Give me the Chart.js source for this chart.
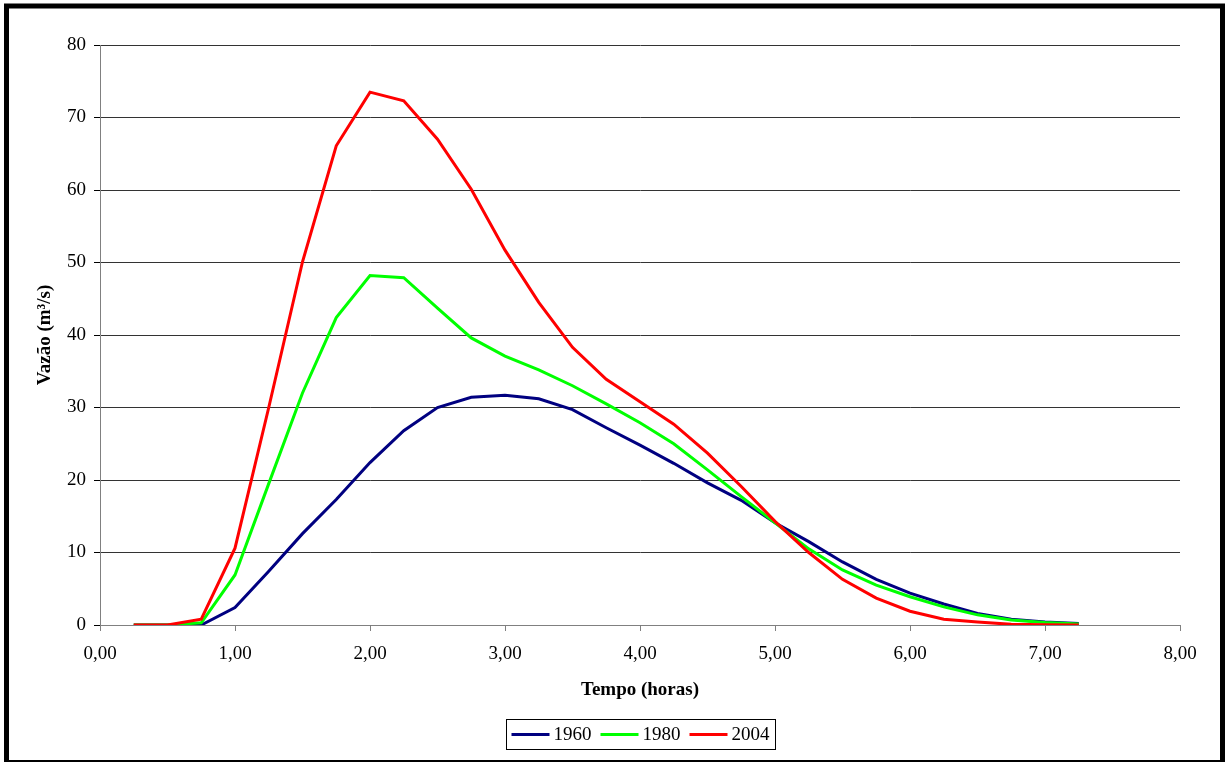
<!DOCTYPE html>
<html>
<head>
<meta charset="utf-8">
<title>Hidrogramas 1960 / 1980 / 2004</title>
<script src="https://cdn.jsdelivr.net/npm/chart.js@4"></script>
<style>
  html, body { margin: 0; padding: 0; background: #ffffff; }
  #chart { display: block; }
</style>
</head>
<body>
<canvas id="chart" width="1226" height="762"></canvas>
<script>
// Time axis (hours) shared by the three hydrographs
const hours = [0.25, 0.5, 0.75, 1.0, 1.25, 1.5, 1.75, 2.0, 2.25, 2.5, 2.75, 3.0, 3.25, 3.5,
               3.75, 4.0, 4.25, 4.5, 4.75, 5.0, 5.25, 5.5, 5.75, 6.0, 6.25, 6.5, 6.75, 7.0, 7.25];

// Discharge (m³/s) for each land-use scenario
const q1960 = [0, 0, 0, 2.4, 7.4, 12.6, 17.3, 22.4, 26.8, 30.0, 31.4, 31.7, 31.2, 29.7,
               27.2, 24.8, 22.3, 19.6, 17.2, 14.1, 11.5, 8.7, 6.3, 4.4, 2.9, 1.6, 0.8, 0.4, 0.2];
const q1980 = [0, 0, 0.3, 6.9, 19.5, 32.0, 42.4, 48.2, 47.9, 43.7, 39.6, 37.1, 35.2, 33.0,
               30.5, 27.9, 25.0, 21.4, 17.7, 14.1, 10.5, 7.6, 5.5, 3.9, 2.5, 1.4, 0.7, 0.35, 0.15];
const q2004 = [0, 0, 0.8, 10.6, 30.0, 50.1, 66.1, 73.5, 72.3, 67.0, 60.1, 51.7, 44.5, 38.3,
               33.9, 30.8, 27.7, 23.7, 19.1, 14.3, 10.0, 6.3, 3.7, 1.9, 0.8, 0.4, 0.1, 0.05, 0];

const seriesLabels = ['1960', '1980', '2004'];
const seriesColors = ['#000080', '#00ff00', '#ff0000'];

const FONT = "'Liberation Serif', 'Times New Roman', serif";

function toPoints(values) {
  return hours.map((h, i) => ({ x: h, y: values[i] }));
}

// White page with the heavy black frame around it
const framePlugin = {
  id: 'frame',
  beforeDraw(chart) {
    const c = chart.ctx;
    c.save();
    c.fillStyle = '#ffffff';
    c.fillRect(0, 0, chart.width, chart.height);
    c.restore();
  },
  afterDraw(chart) {
    const c = chart.ctx;
    c.save();
    c.strokeStyle = '#000000';
    c.lineWidth = 5;
    c.strokeRect(6.5, 6, 1216, 756.5);
    c.restore();
  }
};

// Boxed legend centred under the axis title
const boxedLegend = {
  id: 'boxedLegend',
  afterDraw(chart) {
    const c = chart.ctx;
    const ds = chart.data.datasets;
    c.save();
    c.font = '19px ' + FONT;
    const lineLen = 38, gapText = 4, gapItem = 9, padL = 5, padR = 6;
    const widths = ds.map(d => c.measureText(d.label).width);
    let total = 0;
    widths.forEach((w, i) => { total += lineLen + gapText + w + (i < ds.length - 1 ? gapItem : 0); });
    const boxW = total + padL + padR;
    const cx = (chart.chartArea.left + chart.chartArea.right) / 2;
    const boxX = Math.round(cx - boxW / 2) + 0.5;
    const boxY = 719.5, boxH = 30;
    c.strokeStyle = '#000000';
    c.lineWidth = 1;
    c.strokeRect(boxX, boxY, Math.round(boxW), boxH);
    const midY = boxY + boxH / 2;
    let x = boxX + padL;
    ds.forEach((d, i) => {
      c.strokeStyle = d.borderColor;
      c.lineWidth = 3;
      c.beginPath();
      c.moveTo(x, midY);
      c.lineTo(x + lineLen, midY);
      c.stroke();
      x += lineLen + gapText;
      c.fillStyle = '#000000';
      c.textBaseline = 'middle';
      c.textAlign = 'left';
      c.fillText(d.label, x, midY + 1);
      x += widths[i] + gapItem;
    });
    c.restore();
  }
};

const datasets = [q1960, q1980, q2004].map((vals, i) => ({
  label: seriesLabels[i],
  data: toPoints(vals),
  borderColor: seriesColors[i],
  backgroundColor: seriesColors[i],
  borderWidth: 3,
  pointRadius: 0,
  tension: 0,
  fill: false,
  order: 3 - i
}));

new Chart(document.getElementById('chart'), {
  type: 'line',
  data: { datasets },
  plugins: [framePlugin, boxedLegend],
  options: {
    responsive: false,
    animation: false,
    devicePixelRatio: 1,
    layout: { padding: { left: 0, right: 46, top: 45, bottom: 0 } },
    plugins: {
      legend: { display: false },
      tooltip: { enabled: false }
    },
    scales: {
      x: {
        type: 'linear',
        min: 0,
        max: 8,
        ticks: {
          stepSize: 1,
          maxRotation: 0,
          color: '#000000',
          padding: 12,
          font: { family: FONT, size: 19 },
          callback: v => v.toFixed(2).replace('.', ',')
        },
        grid: { drawOnChartArea: false, drawTicks: true, tickLength: 6, tickColor: '#808080' },
        border: { color: '#808080', width: 1 },
        title: {
          display: true,
          text: 'Tempo (horas)',
          color: '#000000',
          font: { family: FONT, size: 19, weight: 'bold' },
          padding: { top: 0, bottom: 60.6 }
        },
        afterFit: s => { s.height = 137; }
      },
      y: {
        min: 0,
        max: 80,
        ticks: {
          stepSize: 10,
          color: '#000000',
          padding: 8,
          font: { family: FONT, size: 19 }
        },
        grid: { color: '#333333', lineWidth: 1, tickLength: 6, tickColor: '#000000' },
        border: { color: '#808080', width: 1 },
        title: {
          display: true,
          text: 'Vazão (m³/s)',
          color: '#000000',
          font: { family: FONT, size: 19, weight: 'bold' },
          padding: { top: 33.6, bottom: 0 }
        },
        afterFit: s => { s.width = 100; }
      }
    }
  }
});
</script>
</body>
</html>
